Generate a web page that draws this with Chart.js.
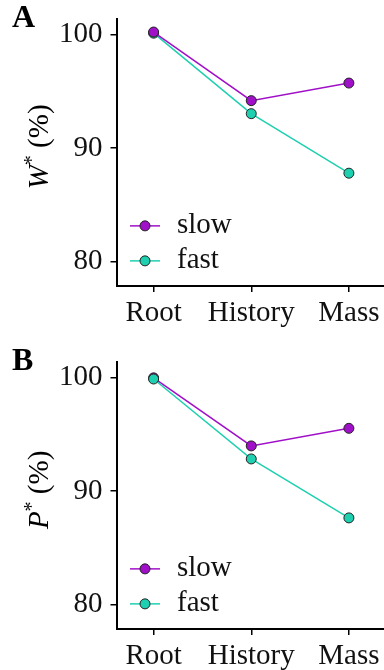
<!DOCTYPE html>
<html><head><meta charset="utf-8">
<script src="https://cdn.jsdelivr.net/npm/chart.js@4/dist/chart.umd.min.js"></script>
<style>
html,body{margin:0;padding:0;background:#fff;overflow:hidden;width:384px;height:670px;}
.p{position:absolute;left:0;width:392px;height:335px;}
</style></head><body>
<div class="p" style="top:0"><canvas id="ca" width="392" height="335"></canvas></div>
<div class="p" style="top:343px"><canvas id="cb" width="392" height="335"></canvas></div>
<script>
const categories = ['Root', 'History', 'Mass'];
const seriesNames = ['slow', 'fast'];
const yTicks = [80, 90, 100];
const slowW = [100.25, 94.2, 95.75];
const fastW = [100.15, 93.05, 87.8];
const slowP = [100.0, 94.0, 95.55];
const fastP = [99.9, 92.85, 87.65];

const PURPLE = '#a010c8';
const TEAL = '#1fd0b0';
const FONT = "'Liberation Serif', 'Times New Roman', serif";
const FS = 29;

function pts(arr){ return arr.map((v,i)=>({x:i,y:v})); }

const overlay = {
  id:'overlay',
  afterDatasetsDraw(chart, args, opts){
    const ctx = chart.ctx;
    const ys = chart.scales.y;
    const y100 = ys.getPixelForValue(100);
    ctx.save();
    // panel letter
    ctx.fillStyle = '#000';
    ctx.font = "bold 32px " + FONT;
    ctx.textBaseline = 'alphabetic';
    ctx.textAlign = 'left';
    ctx.fillText(opts.letter, 12, y100 - 8);
    // y title (rotated)
    ctx.translate(48, y100 + 112);
    ctx.rotate(-Math.PI/2);
    const fN = FS + "px " + FONT, fI = "italic " + FS + "px " + FONT, fS = "20px " + FONT;
    ctx.font = fI; const w1 = ctx.measureText(opts.sym).width;
    ctx.font = fS; const w2 = ctx.measureText('*').width;
    ctx.font = fN; const w3 = ctx.measureText(' (%)').width;
    let x = -(w1+w2+w3)/2;
    ctx.font = fI; ctx.fillText(opts.sym, x, 0); x += w1;
    ctx.font = fS; ctx.fillText('*', x, -10); x += w2;
    ctx.font = fN; ctx.fillText(' (%)', x, 0);
    ctx.restore();
    // legend
    ctx.save();
    chart.data.datasets.forEach((ds, i) => {
      const yy = y100 + 191 + i*35;
      ctx.strokeStyle = ds.borderColor; ctx.lineWidth = 1.5;
      ctx.beginPath(); ctx.moveTo(130, yy); ctx.lineTo(160, yy); ctx.stroke();
      ctx.beginPath(); ctx.arc(145, yy, 5, 0, Math.PI*2);
      ctx.fillStyle = ds.pointBackgroundColor; ctx.fill();
      ctx.strokeStyle = '#222'; ctx.lineWidth = 1; ctx.stroke();
      ctx.fillStyle = '#111'; ctx.font = FS + "px " + FONT;
      ctx.textBaseline = 'middle'; ctx.textAlign = 'left';
      ctx.fillText(ds.label, 177, yy);
    });
    ctx.restore();
  }
};

function makeChart(id, slow, fast, letter, sym, fastOnTop){
  return new Chart(document.getElementById(id), {
    type:'line',
    data:{datasets:[
      {label:seriesNames[0], data:pts(slow), borderColor:PURPLE, backgroundColor:PURPLE,
       pointBackgroundColor:PURPLE, pointBorderColor:'#222', pointBorderWidth:1, pointRadius:5,
       borderWidth:1.5, order: fastOnTop?1:0},
      {label:seriesNames[1], data:pts(fast), borderColor:TEAL, backgroundColor:TEAL,
       pointBackgroundColor:TEAL, pointBorderColor:'#222', pointBorderWidth:1, pointRadius:5,
       borderWidth:1.5, order: fastOnTop?0:1}
    ]},
    options:{
      responsive:false, animation:false, devicePixelRatio:1,
      layout:{padding:{left:0, right:3, top:19, bottom:0}},
      plugins:{legend:{display:false}, tooltip:{enabled:false}, overlay:{letter, sym}},
      scales:{
        x:{type:'linear', min:-0.38, max:2.38,
           afterFit(s){ s.height = 49; s.paddingLeft = 0; s.paddingRight = 0; },
           afterBuildTicks(s){ s.ticks = categories.map((c,i)=>({value:i})); },
           ticks:{callback:(v)=>categories[v], color:'#111', font:{family:FONT, size:FS}, padding:4, maxRotation:0, autoSkip:false},
           grid:{drawOnChartArea:false, drawTicks:true, tickLength:6, color:'#000', lineWidth:1.5},
           border:{display:true, color:'#000', width:2}},
        y:{type:'linear', min:77.85, max:101.4,
           afterFit(s){ s.width = 116.5; s.paddingTop = 0; s.paddingBottom = 0; },
           afterBuildTicks(s){ s.ticks = yTicks.map(v=>({value:v})); },
           ticks:{color:'#111', font:{family:FONT, size:FS}, padding:8},
           grid:{drawOnChartArea:false, drawTicks:true, tickLength:6, color:'#000', lineWidth:1.5},
           border:{display:true, color:'#000', width:2}}
      }
    },
    plugins:[overlay]
  });
}
makeChart('ca', slowW, fastW, 'A', 'W', false);
makeChart('cb', slowP, fastP, 'B', 'P', true);
</script>
</body></html>
